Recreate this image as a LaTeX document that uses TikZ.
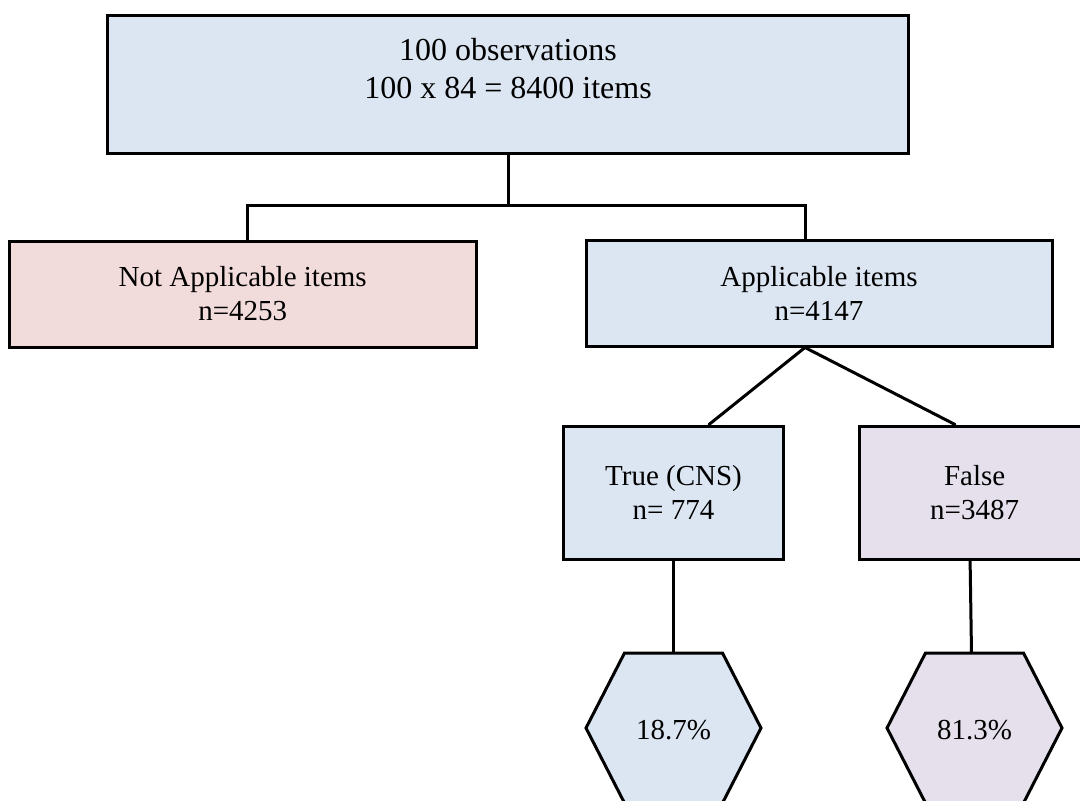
\documentclass[tikz,border=0pt]{standalone}
\usepackage{fontspec}
\setmainfont{Liberation Serif}
\usetikzlibrary{calc}
\definecolor{boxblue}{HTML}{DCE6F2}
\definecolor{boxpink}{HTML}{F2DCDB}
\definecolor{boxlav}{HTML}{E5E0EC}
\tikzset{
  boxstyle/.style={draw=black, line width=3pt, rectangle, align=center, inner sep=0pt, font=\fontsize{29}{34}\selectfont},
  topstyle/.style={boxstyle, font=\fontsize{32}{37}\selectfont},
  conn/.style={draw=black, line width=3pt},
  hexstyle/.style={draw=black, line width=3pt, line join=miter},
  hextext/.style={inner sep=0pt, font=\fontsize{29}{34}\selectfont}
}
\begin{document}
\begin{tikzpicture}[x=1pt, y=-1pt]
\path[use as bounding box] (0,0) rectangle (1080,801);
\clip (0,0) rectangle (1080,801);

% boxes
\node[topstyle, fill=boxblue, minimum width=801, minimum height=138] (top) at (508,84.5)
  {100 observations\\[1pt]100 x 84 = 8400 items\\[-16pt]\strut};
\node[boxstyle, fill=boxpink, minimum width=467, minimum height=106] (na) at (242.7,294)
  {Not Applicable items\\n=4253};
\node[boxstyle, fill=boxblue, minimum width=466, minimum height=106] (app) at (819,293)
  {Applicable items\\n=4147};
\node[boxstyle, fill=boxblue, minimum width=220, minimum height=133] (tru) at (673.5,492.5)
  {True (CNS)\\n= 774};
\node[boxstyle, fill=boxlav, minimum width=230, minimum height=133] (fal) at (974.6,492.5)
  {False\\n=3487};

% hexagons
\coordinate (h1) at (673.5,728);
\coordinate (h2) at (974.5,728);
\draw[hexstyle, fill=boxblue] ($(h1)+(-87.5,0)$) -- ($(h1)+(-49,-75)$) -- ($(h1)+(49,-75)$) -- ($(h1)+(87.5,0)$) -- ($(h1)+(49,75)$) -- ($(h1)+(-49,75)$) -- cycle;
\draw[hexstyle, fill=boxlav] ($(h2)+(-87.5,0)$) -- ($(h2)+(-49,-75)$) -- ($(h2)+(49,-75)$) -- ($(h2)+(87.5,0)$) -- ($(h2)+(49,75)$) -- ($(h2)+(-49,75)$) -- cycle;
\node[hextext] (p1) at ($(h1)+(0,2)$) {18.7\%};
\node[hextext] (p2) at ($(h2)+(0,2)$) {81.3\%};
\coordinate (h1top) at ($(h1)+(0,-75)$);
\coordinate (h2top) at ($(h2)+(-3,-75)$);

% connectors
\coordinate (split) at (508,205);
\draw[conn] (top.south) -- (split);
\draw[conn] ([xshift=4.3pt,yshift=-2pt]na.north) |- (split) -| ([xshift=-14pt]app.north);
\coordinate (fork) at ([xshift=-14pt]app.south);
\draw[conn, line cap=round] ([xshift=35.5pt]tru.north) -- (fork) -- ([xshift=-19.6pt]fal.north);
\draw[conn] (tru.south) -- (h1top);
\draw[conn] ([xshift=-4.5pt]fal.south) -- (h2top);
\end{tikzpicture}
\end{document}
